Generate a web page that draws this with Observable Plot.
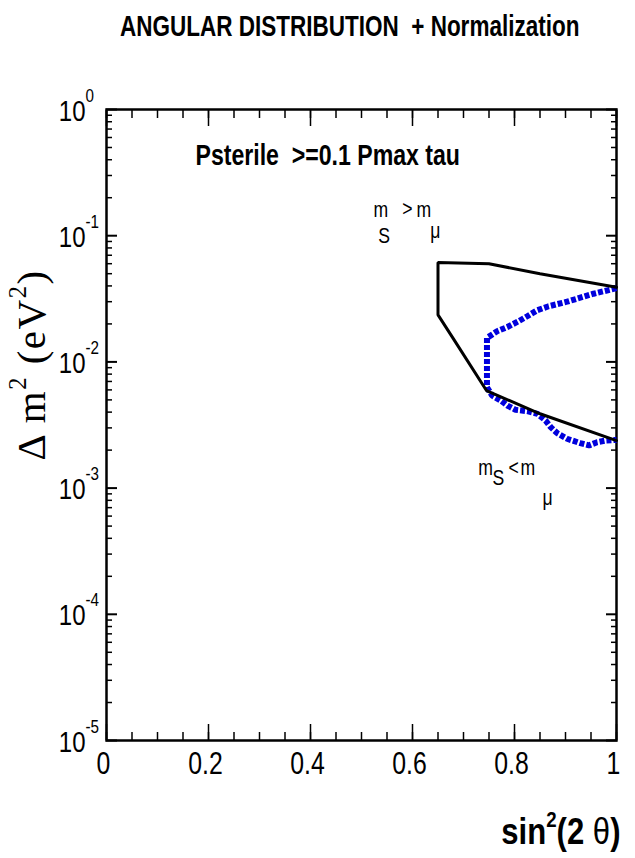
<!DOCTYPE html>
<html>
<head>
<meta charset="utf-8">
<script src="https://cdn.jsdelivr.net/npm/d3@7"></script>
<script src="https://cdn.jsdelivr.net/npm/@observablehq/plot@0.6"></script>
<style>
  html, body { margin: 0; padding: 0; background: #fff; }
  #title {
    height: 50px; box-sizing: border-box;
    font-family: "Liberation Sans", Arial, sans-serif;
    font-weight: bold; font-size: 30px; line-height: 30px;
    padding-top: 11px; padding-left: 120px; color: #000; white-space: pre;
  }
  #title span { display: inline-block; transform: scaleX(0.75); transform-origin: left center; }
  #chart svg { display: block; }
</style>
</head>
<body>
<div id="title"><span>ANGULAR DISTRIBUTION  + Normalization</span></div>
<div id="chart"></div>
<script>
// ---- data ----
const blackX = [1.0, 0.85, 0.75, 0.65, 0.65, 0.68, 0.745, 0.85, 1.0];
const blackY = [0.0391, 0.050, 0.0599, 0.0614, 0.0236, 0.0153, 0.00593, 0.00388, 0.00238];

const blueX = [1.0, 0.955, 0.903, 0.867, 0.844, 0.825, 0.808, 0.786, 0.766, 0.746,
               0.746, 0.756, 0.773, 0.786, 0.802, 0.825, 0.845, 0.861, 0.871, 0.884,
               0.903, 0.929, 0.946, 0.962, 0.978, 1.0];
const blueY = [0.0384, 0.0347, 0.0300, 0.0276, 0.0256, 0.0230, 0.0210, 0.0189, 0.0175, 0.0155,
               0.0063, 0.00542, 0.00494, 0.00451, 0.00417, 0.00407, 0.00388, 0.00343, 0.00304, 0.00272,
               0.00246, 0.00227, 0.00218, 0.00231, 0.00238, 0.00241];

const xTicks = [0, 0.2, 0.4, 0.6, 0.8, 1];
const xTickLabels = ["0", "0.2", "0.4", "0.6", "0.8", "1"];
const yTicks = [1e-5, 1e-4, 1e-3, 1e-2, 1e-1, 1];
const yTickExp = ["-5", "-4", "-3", "-2", "-1", "0"];

const noteText = ["m", "S", ">", "m", "μ", "m", "S", "<", "m", "μ"];
const noteX = [0.5235, 0.533, 0.580, 0.608, 0.635, 0.729, 0.757, 0.788, 0.812, 0.855];
const noteY = [0.1394, 0.0883, 0.142, 0.1394, 0.0951, 0.001259, 0.00105, 0.001259, 0.001259, 0.000728];

const innerLabel = "Psterile  >=0.1 Pmax tau";
const innerX = 0.1745, innerY = 0.36;
const xLabel = "sin2(2 θ)";
const yLabel = "Δ m2 (eV2)";

// ---- derived tables ----
const black = blackX.map((x, i) => ({x, y: blackY[i]}));
const blue = blueX.map((x, i) => ({x, y: blueY[i]}));
const notes = noteText.map((t, i) => ({t, x: noteX[i], y: noteY[i]}));
const xMinor = d3.range(0, 1.0001, 0.05);
const yMinor = [];
for (let e = -5; e < 0; e++) for (let m = 2; m <= 9; m++) yMinor.push(m * Math.pow(10, e));

const SANS = '"Liberation Sans", Arial, sans-serif';
const SERIF = '"Liberation Serif", "Times New Roman", serif';
const blank = () => "";

const chart = Plot.plot({
  width: 635,
  height: 808,
  marginTop: 59,
  marginBottom: 118,
  marginLeft: 106,
  marginRight: 19,
  x: {domain: [0, 1]},
  y: {type: "log", domain: [1e-5, 1]},
  style: {fontFamily: SANS, color: "black", background: "white", overflow: "visible"},
  marks: [
    // inward ticks on all four sides
    Plot.axisX(xMinor, {anchor: "bottom", tickSize: -8, tickFormat: blank, strokeWidth: 1.5, label: null}),
    Plot.axisX(xTicks, {anchor: "bottom", tickSize: -16, tickFormat: blank, strokeWidth: 1.5, label: null}),
    Plot.axisX(xMinor, {anchor: "top", tickSize: -8, tickFormat: blank, strokeWidth: 1.5, label: null}),
    Plot.axisX(xTicks, {anchor: "top", tickSize: -16, tickFormat: blank, strokeWidth: 1.5, label: null}),
    Plot.axisY(yMinor, {anchor: "left", tickSize: -6, tickFormat: blank, strokeWidth: 1.5, label: null}),
    Plot.axisY(yTicks, {anchor: "left", tickSize: -11, tickFormat: blank, strokeWidth: 2, label: null}),
    Plot.axisY(yMinor, {anchor: "right", tickSize: -6, tickFormat: blank, strokeWidth: 1.5, label: null}),
    Plot.axisY(yTicks, {anchor: "right", tickSize: -11, tickFormat: blank, strokeWidth: 2, label: null}),
    Plot.frame({stroke: "black", strokeWidth: 2.5}),

    // tick labels
    Plot.text(xTicks, {x: d => d, text: (d, i) => xTickLabels[i], frameAnchor: "bottom",
      dy: 33, dx: -3, lineAnchor: "bottom", fontSize: 31}),
    Plot.text(yTicks, {y: d => d, text: () => "10", frameAnchor: "left", textAnchor: "end",
      dx: -21, dy: 11, lineAnchor: "bottom", fontSize: 30}),
    Plot.text(yTicks, {y: d => d, text: (d, i) => yTickExp[i], frameAnchor: "left", textAnchor: "start",
      dx: -21, dy: -8, lineAnchor: "bottom", fontSize: 19}),

    // curves
    Plot.line(blue, {x: "x", y: "y", stroke: "#0000dd", strokeWidth: 6, strokeLinecap: "butt",
      strokeLinejoin: "miter", strokeDasharray: "5,2"}),
    Plot.line(black, {x: "x", y: "y", stroke: "black", strokeWidth: 3, strokeLinejoin: "miter"}),

    // annotations
    Plot.text([innerLabel], {x: innerX, y: innerY, text: d => d, textAnchor: "start",
      lineAnchor: "bottom", fontSize: 30, fontWeight: "bold"}),
    Plot.text(notes, {x: "x", y: "y", text: "t", textAnchor: "start", lineAnchor: "bottom", fontSize: 22}),

    // axis titles
    Plot.text([xLabel], {frameAnchor: "bottom-right", text: d => d, textAnchor: "end",
      lineAnchor: "bottom", dx: 4, dy: 103, fontSize: 37, fontWeight: "bold"}),
    Plot.text([yLabel], {frameAnchor: "left", text: d => d, textAnchor: "middle",
      lineAnchor: "bottom", rotate: -90, dx: -62, dy: -60, fontSize: 41, fontFamily: SERIF})
  ]
});
document.getElementById("chart").appendChild(chart);

// condense the sans-serif texts (the reference uses a narrow face) and build superscripts
const svg = d3.select(chart);
svg.selectAll("text").each(function() {
  const el = d3.select(this);
  const txt = this.textContent;
  if (txt === "") return;
  let s = 0.8;
  if (txt === yLabel) {
    el.text(null).style("letter-spacing", "1.5px");
    el.append("tspan").text("Δ m");
    el.append("tspan").attr("font-size", "0.6em").attr("dy", "-0.75em").text("2");
    el.append("tspan").attr("dy", "0.45em").text(" (eV");
    el.append("tspan").attr("font-size", "0.6em").attr("dy", "-0.75em").text("2");
    el.append("tspan").attr("dy", "0.45em").text(")");
    return;
  }
  if (txt === xLabel) {
    el.text(null);
    el.append("tspan").text("sin");
    el.append("tspan").attr("font-size", "0.6em").attr("dy", "-0.75em").text("2");
    el.append("tspan").attr("dy", "0.45em").text("(2 ");
    el.append("tspan").attr("font-weight", "normal").text("θ");
    el.append("tspan").text(")");
    s = 0.84;
  }
  if (txt === innerLabel) s = 0.77;
  const t = this.getAttribute("transform") || "";
  this.setAttribute("transform", t + ` scale(${s},1)`);
});
</script>
</body>
</html>
